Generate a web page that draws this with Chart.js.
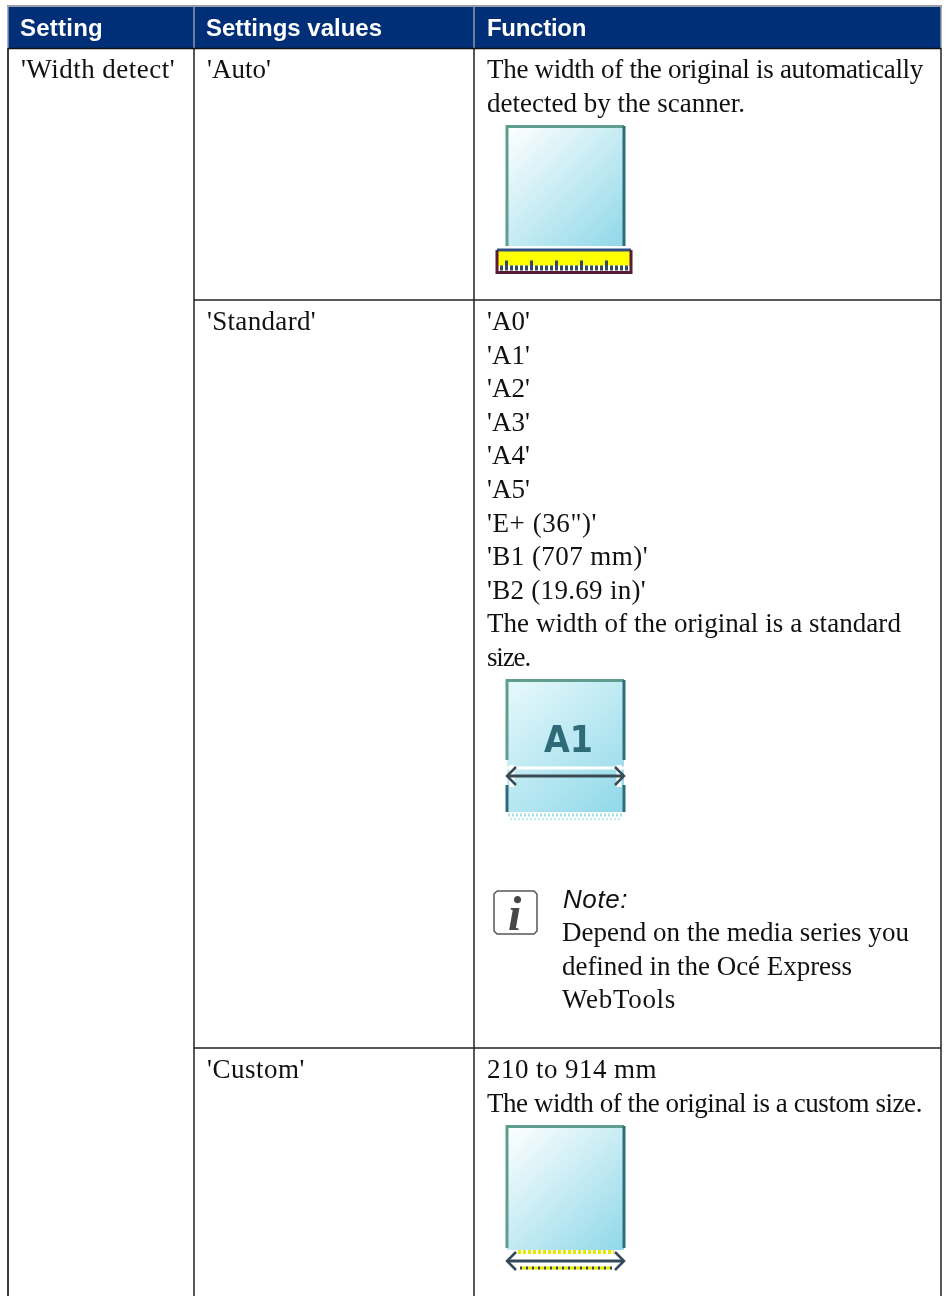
<!DOCTYPE html>
<html>
<head>
<meta charset="utf-8">
<title>Width detect</title>
<script src="https://cdn.jsdelivr.net/npm/chart.js@4/dist/chart.umd.js"></script>
<style>
  html, body { margin: 0; padding: 0; background: #fff; }
  canvas { display: block; }
</style>
</head>
<body>
<canvas id="chart" width="947" height="1296"></canvas>
<script>
const headers = ['Setting', 'Settings values', 'Function'];
const settingNames = ["'Width detect'"];
const settingValues = ["'Auto'", "'Standard'", "'Custom'"];
const autoLines = ['The width of the original is automatically', 'detected by the scanner.'];
const standardLines = ["'A0'", "'A1'", "'A2'", "'A3'", "'A4'", "'A5'", "'E+ (36\")'", "'B1 (707 mm)'", "'B2 (19.69 in)'",
  'The width of the original is a standard', 'size.'];
const noteTitle = 'Note:';
const noteLines = ['Depend on the media series you', 'defined in the Océ Express', 'WebTools'];
const customLines = ['210 to 914 mm', 'The width of the original is a custom size.'];
const iconLabel = 'A1';

// page layout, in pixels
const W = 947, H = 1296;
const columnLines = [8, 194, 474, 941];
const textX = [20, 206, 487];
const rowLines = [300, 1048];
const bodyFont = '27px "Liberation Serif"';
const lineStep = 33.6;

// right end of each text line, the letter spacing is fitted to it
const autoEnds = [923, 745];
const standardEnds = [530, 530, 530, 530, 530, 530, 597, 648, 646, 901, 530];
const noteEnds = [909, 852, 676];
const customEnds = [657, 922];

const datasets = [];
function line(points, color, width, extra) {
  datasets.push(Object.assign({
    data: points.map(p => ({ x: p[0], y: p[1] })),
    borderColor: color,
    borderWidth: width,
    borderCapStyle: 'butt',
    pointRadius: 0,
    showLine: true,
    tension: 0,
    order: -datasets.length // later ones on top
  }, extra));
}

function sheet(top, bottom, from, to) {
  line([[507, top], [624, top], [624, bottom], [507, bottom], [507, top]], 'rgba(0,0,0,0)', 0, {
    fill: 'shape',
    backgroundColor: c => {
      const g = c.chart.ctx.createLinearGradient(507, top, 624, bottom);
      g.addColorStop(0, from);
      g.addColorStop(1, to);
      return g;
    }
  });
}

function arrow(y, color) {
  line([[512, y - 11], [512, y + 11]], '#ffffff', 5);
  line([[619, y - 11], [619, y + 11]], '#ffffff', 5);
  line([[507, y], [624, y]], color, 3);
  line([[516, y - 9], [507, y], [516, y + 9]], color, 2.5);
  line([[615, y - 9], [624, y], [615, y + 9]], color, 2.5);
}

// header band
line([[7, 6], [942, 6]], '#9a9fa8', 2);
line([[8, 27.5], [941, 27.5]], '#002f78', 41);

// table rules
columnLines.forEach((x, i) => {
  line([[x, 7], [x, 48]], '#8d97ab', 1.5);
  line([[x, 48], [x, H]], '#222', i === 0 ? 1 : 1.5);
});
line([[8, 48.5], [941, 48.5]], '#111', 1.5);
line([[194, rowLines[0]], [941, rowLines[0]]], '#222', 1.5);
line([[194, rowLines[1]], [941, rowLines[1]]], '#222', 1.5);

// 'Auto' icon
sheet(126, 246, '#ffffff', '#8fd8e8');
line([[507, 246], [507, 126.5], [624, 126.5]], '#5f9e8f', 3);
line([[624, 126], [624, 246]], '#2f6b7c', 3);
line([[497, 260], [631, 260]], '#ffff00', 20);
line([[499, 268], [630, 268]], '#ffffff', 5);
line([[500, 268], [629, 268]], '#34495e', 5, { borderDash: [3, 2] });
line([[505, 264], [629, 264]], '#34495e', 7, { borderDash: [3, 22] });
line([[497, 250], [631, 250]], '#2f4f80', 3);
line([[631, 250], [631, 272.5], [497, 272.5], [497, 250]], '#5a1a3a', 3);

// 'Standard' icon
sheet(680, 812, '#e8f9fc', '#8fd8e8');
line([[507, 760], [507, 680.5], [624, 680.5]], '#5f9e8f', 3);
line([[624, 680], [624, 760]], '#2f6b7c', 3);
line([[506, 768], [625, 768]], '#ffffff', 3);
line([[507, 785], [507, 812]], '#2f6b7c', 3);
line([[624, 785], [624, 812]], '#2f6b7c', 3);
arrow(776, '#3a4a55');
line([[508, 815], [622, 815]], '#a5dfea', 3, { borderDash: [2, 2] });
line([[510, 819], [620, 819]], '#c5ecf2', 2.5, { borderDash: [2, 2] });

// 'Custom' icon
sheet(1126, 1250, '#ffffff', '#8fd8e8');
line([[507, 1248], [507, 1126.5], [624, 1126.5]], '#5f9e8f', 3);
line([[624, 1126], [624, 1248]], '#2f6b7c', 3);
arrow(1261, '#34495a');
line([[518, 1252], [614, 1252]], '#e8e800', 4, { borderDash: [3, 2] });
line([[520, 1268], [612, 1268]], '#e8e800', 3);
line([[520, 1268], [612, 1268]], '#34495a', 3, { borderDash: [2, 4] });

// info box of the note
line([[497, 891], [534, 891], [537, 894], [537, 931], [534, 934], [497, 934], [494, 931], [494, 894], [497, 891]], '#5a5557', 1.5);

function textLines(lines, ends, x, y) {
  return lines.map((s, i) => ({ s, x, y: y + i * lineStep, font: bodyFont, color: '#111', end: ends[i] }));
}

const headerFont = 'bold 24px "Liberation Sans"';
const headerEnds = [103, 382, 586];
const texts = [
  ...headers.map((s, i) => ({ s, x: textX[i], y: 36, font: headerFont, color: '#ffffff', end: headerEnds[i] })),
  ...textLines(settingNames, [175], 21, 78),
  ...textLines(settingValues.slice(0, 1), [271], 207, 78),
  ...textLines(settingValues.slice(1, 2), [316], 207, 330),
  ...textLines(settingValues.slice(2), [305], 207, 1078),
  ...textLines(autoLines, autoEnds, textX[2], 78),
  ...textLines(standardLines, standardEnds, textX[2], 330),
  ...textLines(customLines, customEnds, textX[2], 1078),
  { s: noteTitle, x: 563, y: 908, font: 'italic 26px "Liberation Sans"', color: '#111', end: 628 },
  ...textLines(noteLines, noteEnds, 562, 941),
  { s: 'i', x: 508, y: 930, font: 'italic bold 48px "Liberation Serif"', color: '#4a4548' },
  { s: iconLabel, x: 544, y: 752, font: 'bold 37px "DejaVu Sans Condensed"', color: '#2f6a78' }
];

const tablePlugin = {
  id: 'tableText',
  afterDatasetsDraw(chart) {
    const ctx = chart.ctx;
    ctx.save();
    ctx.textBaseline = 'alphabetic';
    texts.forEach(t => {
      ctx.font = t.font;
      ctx.letterSpacing = '0px';
      if (t.end) {
        const extra = (t.end - t.x - ctx.measureText(t.s).width) / t.s.length;
        ctx.letterSpacing = extra.toFixed(3) + 'px';
      }
      ctx.fillStyle = t.color;
      ctx.fillText(t.s, t.x, t.y);
    });
    ctx.restore();
  }
};

new Chart(document.getElementById('chart'), {
  type: 'scatter',
  data: { datasets },
  options: {
    responsive: false,
    animation: false,
    layout: { padding: 0 },
    plugins: { legend: { display: false }, tooltip: { enabled: false } },
    scales: {
      x: { type: 'linear', min: 0, max: W, display: false },
      y: { type: 'linear', min: 0, max: H, reverse: true, display: false }
    }
  },
  plugins: [tablePlugin]
});
</script>
</body>
</html>
